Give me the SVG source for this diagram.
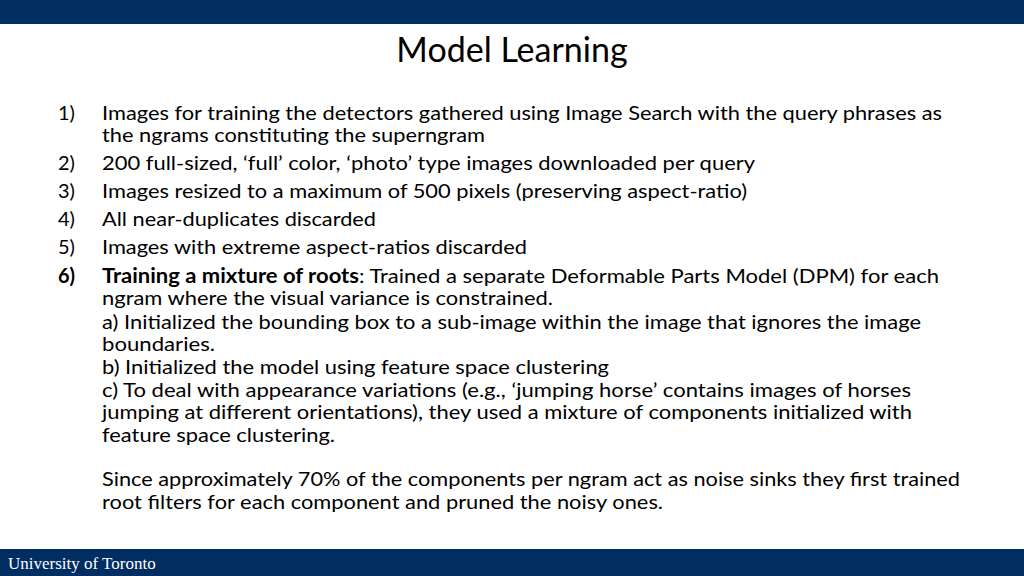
<svg xmlns="http://www.w3.org/2000/svg" width="1024" height="576" viewBox="0 0 1024 576">
<style>
.t{font-family:Lato,"Open Sans",sans-serif;font-size:20px;fill:#000}
.b{font-weight:bold}
</style>
<rect width="1024" height="576" fill="#fff"/>
<rect id="topbar" x="0" y="0" width="1024" height="24" fill="#002d62"/>
<rect id="footer" x="0" y="549" width="1024" height="27" fill="#002d62"/>
<text x="8" y="569" font-family="Liberation Serif,serif" font-size="17" fill="#fff">University of Toronto</text>
<text x="512" y="62" text-anchor="middle" font-family="Lato,'Open Sans',sans-serif" font-size="34" fill="#000">Model Learning</text>
<g id="body" class="t">
<text class="t" x="58" y="120">1)</text>
<text class="t" x="102" y="120" textLength="840" lengthAdjust="spacingAndGlyphs">Images for training the detectors gathered using Image Search with the query phrases as</text>
<text class="t" x="102" y="142" textLength="383" lengthAdjust="spacingAndGlyphs">the ngrams constituting the superngram</text>
<text class="t" x="58" y="170">2)</text>
<text class="t" x="102" y="170" textLength="653" lengthAdjust="spacingAndGlyphs">200 full-sized, ‘full’ color, ‘photo’ type images downloaded per query</text>
<text class="t" x="58" y="198">3)</text>
<text class="t" x="102" y="198" textLength="645" lengthAdjust="spacingAndGlyphs">Images resized to a maximum of 500 pixels (preserving aspect-ratio)</text>
<text class="t" x="58" y="226">4)</text>
<text class="t" x="102" y="226" textLength="274" lengthAdjust="spacingAndGlyphs">All near-duplicates discarded</text>
<text class="t" x="58" y="254">5)</text>
<text class="t" x="102" y="254" textLength="425" lengthAdjust="spacingAndGlyphs">Images with extreme aspect-ratios discarded</text>
<text class="t b" x="58" y="283">6)</text>
<text class="t" x="102" y="283" textLength="837" lengthAdjust="spacingAndGlyphs"><tspan class="b">Training a mixture of roots</tspan>:  Trained a separate Deformable Parts Model (DPM) for each</text>
<text class="t" x="102" y="305" textLength="451" lengthAdjust="spacingAndGlyphs">ngram where the visual variance is constrained.</text>
<text class="t" x="102" y="329" textLength="819" lengthAdjust="spacingAndGlyphs">a) Initialized the bounding box to a sub-image within the image that ignores the image</text>
<text class="t" x="102" y="351" textLength="113" lengthAdjust="spacingAndGlyphs">boundaries.</text>
<text class="t" x="102" y="374" textLength="507" lengthAdjust="spacingAndGlyphs">b) Initialized the model using feature space clustering</text>
<text class="t" x="102" y="397" textLength="809" lengthAdjust="spacingAndGlyphs">c) To deal with appearance variations (e.g., ‘jumping horse’ contains images of horses</text>
<text class="t" x="102" y="419" textLength="810" lengthAdjust="spacingAndGlyphs">jumping at different orientations), they used a mixture of components initialized with</text>
<text class="t" x="102" y="442" textLength="233" lengthAdjust="spacingAndGlyphs">feature space clustering.</text>
<text class="t" x="102" y="486" textLength="858" lengthAdjust="spacingAndGlyphs">Since approximately 70% of the components per ngram act as noise sinks they first trained</text>
<text class="t" x="102" y="509" textLength="561" lengthAdjust="spacingAndGlyphs">root filters for each component and pruned the noisy ones.</text>
</g>
</svg>
